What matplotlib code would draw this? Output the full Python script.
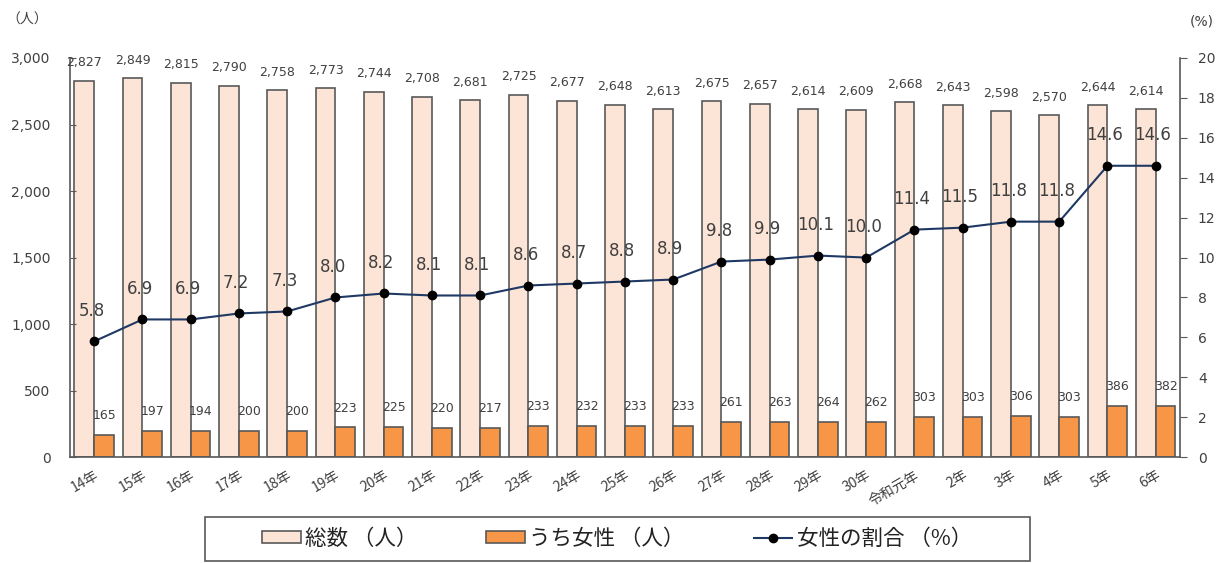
import matplotlib
matplotlib.use("Agg")
import matplotlib.pyplot as plt
import numpy as np
from matplotlib.patches import Patch, Rectangle
from matplotlib.lines import Line2D

plt.rcParams['font.family'] = ['Noto Sans CJK JP', 'DejaVu Sans']

# データ
years = ['14年', '15年', '16年', '17年', '18年', '19年', '20年', '21年', '22年',
         '23年', '24年', '25年', '26年', '27年', '28年', '29年', '30年',
         '令和元年', '2年', '3年', '4年', '5年', '6年']
total = [2827, 2849, 2815, 2790, 2758, 2773, 2744, 2708, 2681, 2725, 2677, 2648,
         2613, 2675, 2657, 2614, 2609, 2668, 2643, 2598, 2570, 2644, 2614]
women = [165, 197, 194, 200, 200, 223, 225, 220, 217, 233, 232, 233,
         233, 261, 263, 264, 262, 303, 303, 306, 303, 386, 382]
ratio = [5.8, 6.9, 6.9, 7.2, 7.3, 8.0, 8.2, 8.1, 8.1, 8.6, 8.7, 8.8,
         8.9, 9.8, 9.9, 10.1, 10.0, 11.4, 11.5, 11.8, 11.8, 14.6, 14.6]

c_total = '#FCE4D6'
c_women = '#F79646'
c_edge = '#595959'
c_line = '#1F3864'
c_text = '#404040'

fig = plt.figure(figsize=(12.29, 5.63), dpi=100)
ax = fig.add_axes([0.057, 0.188, 0.903, 0.709])
x = np.arange(len(years))
w = 0.41

ax.bar(x - w / 2, total, w, color=c_total, edgecolor=c_edge, linewidth=1.2)
ax.bar(x + w / 2, women, w, color=c_women, edgecolor=c_edge, linewidth=1.2)

for xi, v in zip(x, total):
    ax.annotate(f'{v:,}', (xi - w / 2, v), xytext=(0, 13), textcoords='offset points',
                ha='center', va='center', fontsize=9, color=c_text, family='DejaVu Sans')
for xi, v in zip(x, women):
    ax.annotate(f'{v}', (xi + w / 2, v), xytext=(0, 14), textcoords='offset points',
                ha='center', va='center', fontsize=9, color=c_text, family='DejaVu Sans')

ax.set_xlim(-0.5, len(years) - 0.5)
ax.set_ylim(0, 3000)
ax.set_yticks(range(0, 3001, 500))
ax.set_yticklabels([f'{v:,}' for v in range(0, 3001, 500)], color=c_text,
                   fontsize=10, family='DejaVu Sans')
ax.set_xticks(x)
ax.set_xticklabels(years, rotation=30, ha='right', rotation_mode='anchor',
                   fontsize=10, color=c_text)
ax.tick_params(axis='x', length=0, pad=8)
ax.tick_params(axis='y', direction='in', length=4, color=c_edge, pad=14)
for s in ['top', 'right']:
    ax.spines[s].set_visible(False)
for s in ['left', 'bottom']:
    ax.spines[s].set_color(c_edge)
    ax.spines[s].set_linewidth(1.2)

ax2 = ax.twinx()
ax2.plot(x, ratio, color=c_line, linewidth=1.5, marker='o', markersize=6,
         markerfacecolor='black', markeredgecolor='black')
for xi, v in zip(x, ratio):
    ax2.annotate(f'{v:.1f}', (xi, v), xytext=(-2, 22), textcoords='offset points',
                 ha='center', va='center', fontsize=12, color=c_text, family='DejaVu Sans')
ax2.set_ylim(0, 20)
ax2.set_yticks(range(0, 21, 2))
ax2.set_yticklabels([str(v) for v in range(0, 21, 2)], color=c_text,
                    fontsize=10, family='DejaVu Sans')
ax2.tick_params(axis='y', direction='out', length=5, color=c_edge, pad=8)
for s in ['top', 'left', 'bottom']:
    ax2.spines[s].set_visible(False)
ax2.spines['right'].set_color(c_edge)
ax2.spines['right'].set_linewidth(1.2)

fig.text(0.005, 0.965, '（人）', fontsize=10, color=c_text, va='center')
fig.text(0.978, 0.962, '(%)', fontsize=10, color=c_text, va='center', ha='center',
         family='DejaVu Sans')

# 凡例（枠は別に描く）
fig.patches.append(Rectangle((0.167, 0.004), 0.671, 0.078, transform=fig.transFigure,
                             facecolor='white', edgecolor=c_edge, linewidth=1.2))
handles = [Patch(facecolor=c_total, edgecolor=c_edge, linewidth=1.2),
           Patch(facecolor=c_women, edgecolor=c_edge, linewidth=1.2),
           Line2D([], [], color=c_line, linewidth=1.5, marker='o', markersize=6,
                  markerfacecolor='black', markeredgecolor='black')]
labels = ['総数 （人）', 'うち女性 （人）', '女性の割合 （%）']
leg = fig.legend(handles, labels, loc='center', bbox_to_anchor=(0.502, 0.043),
                 ncol=3, frameon=False, fontsize=15.5, handlelength=1.8,
                 handleheight=0.5, handletextpad=0.2, columnspacing=3.2,
                 labelcolor='#222222')

fig.savefig('out.png', dpi=100)
